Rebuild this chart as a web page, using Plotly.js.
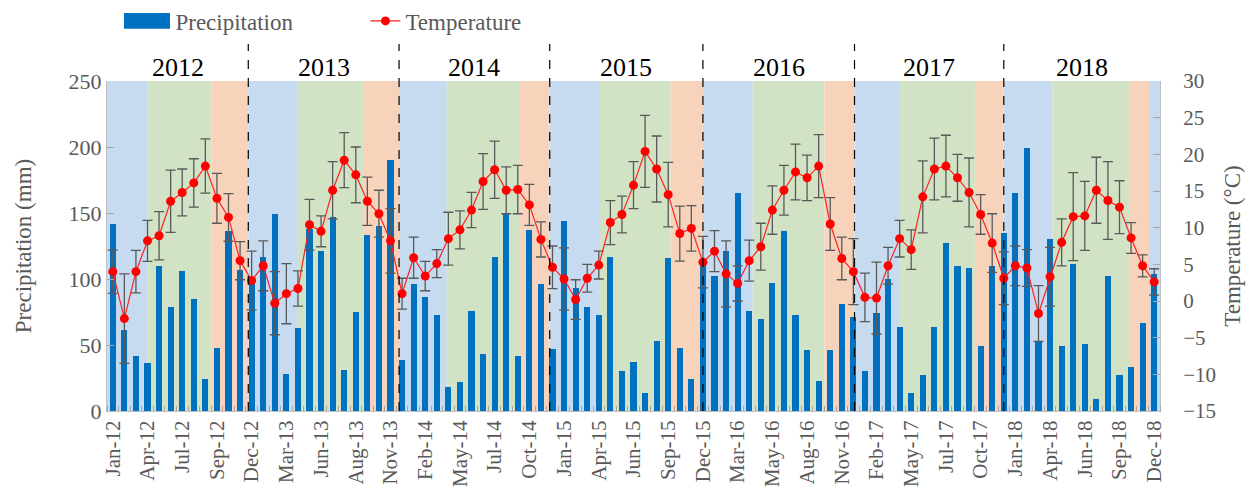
<!DOCTYPE html>
<html>
<head>
<meta charset="utf-8">
<script src="https://cdn.plot.ly/plotly-3.0.1.min.js"></script>
<style>html,body{margin:0;padding:0;background:#fff;}#chart{width:1247px;height:497px;}</style>
</head>
<body>
<div id="chart"></div>
<script>
// 91 consecutive 28-day periods, Jan 2012 - Dec 2018 (category index)
const tickLabels = ["Jan-12","Apr-12","Jul-12","Sep-12","Dec-12","Mar-13","Jun-13","Aug-13","Nov-13",
  "Feb-14","May-14","Jul-14","Oct-14","Jan-15","Apr-15","Jun-15","Sep-15","Dec-15","Mar-16","May-16",
  "Aug-16","Nov-16","Feb-17","May-17","Jul-17","Oct-17","Jan-18","Apr-18","Jun-18","Sep-18","Dec-18"];

const precipitation = [142,61,42,36,110,79,106,85,24,48,136,107,
  98,117,149,28,63,138,121,147,31,75,133,140,190,
  39,96,86,73,18,22,76,43,117,149,42,137,96,
  47,144,93,79,73,117,30,37,14,53,116,48,24,
  113,102,121,165,76,70,97,136,73,46,23,46,81,71,
  30,74,100,64,14,27,64,127,110,108,49,110,135,
  165,199,53,130,49,111,51,9,102,27,33,67,104];

const temperature = [4.0,-2.4,4.0,8.2,8.9,13.6,14.8,16.1,18.4,14.0,11.4,5.5,
  2.8,4.8,-0.3,1.0,1.7,10.4,9.5,15.1,19.2,17.2,13.6,11.9,8.2,
  1.0,5.9,3.4,5.1,8.5,9.7,12.4,16.3,17.9,15.1,15.2,13.1,8.4,
  4.6,3.0,0.2,3.1,4.9,10.7,11.8,15.8,20.4,18.0,14.5,9.2,9.9,
  5.3,6.8,3.7,2.4,5.5,7.4,12.4,15.1,17.6,16.8,18.4,10.5,5.8,4.0,
  0.5,0.4,4.8,8.5,7.0,14.2,18.0,18.4,16.8,14.8,11.8,7.9,3.1,
  4.8,4.5,-1.7,3.3,8.0,11.5,11.6,15.1,13.7,12.8,8.6,4.8,2.6];

const temperatureErr = [2.95,6.1,2.9,2.8,3.3,4.25,3.2,3.3,3.7,3.4,3.25,2.6,
  4.0,3.4,4.3,4.1,2.4,3.45,2.1,3.9,3.75,3.8,3.3,3.2,4.4,
  2.1,2.8,2.0,1.9,3.6,2.6,2.4,3.8,3.9,3.2,3.3,2.8,2.4,
  2.9,4.25,2.7,1.9,1.9,3.0,2.5,3.2,4.9,4.5,4.4,3.75,3.1,
  3.5,2.8,4.5,2.4,2.8,3.2,3.3,3.4,3.8,3.1,4.3,3.6,2.9,4.5,
  3.3,4.9,2.5,2.5,2.7,4.9,4.2,4.2,3.2,4.7,2.7,4.0,3.6,
  2.7,2.5,3.8,4.0,3.2,6.0,4.7,4.5,5.3,3.6,2.1,1.5,1.8];

const years = ["2012","2013","2014","2015","2016","2017","2018"];
// year separators (in period-index units)
const yearBreaks = [11.71,24.74,37.76,51.0,64.1,77.0];
// season bands: [start, end, season]
const seasons = [
  [-0.5,3.0,"winter"],[3.0,8.52,"growing"],[8.52,11.71,"autumn"],
  [11.71,16.0,"winter"],[16.0,21.7,"growing"],[21.7,24.74,"autumn"],
  [24.74,28.86,"winter"],[28.86,35.2,"growing"],[35.2,37.76,"autumn"],
  [37.76,42.1,"winter"],[42.1,48.2,"growing"],[48.2,51.0,"autumn"],
  [51.0,55.3,"winter"],[55.3,61.5,"growing"],[61.5,64.1,"autumn"],
  [64.1,67.95,"winter"],[67.95,74.5,"growing"],[74.5,77.0,"autumn"],
  [77.0,81.2,"winter"],[81.2,87.9,"growing"],[87.9,89.55,"autumn"],
  [89.55,90.5,"winter"]
];

const periods = precipitation.map((_, i) => i);
const seasonColor = {winter:"#C6DBEF", growing:"#D2E2C4", autumn:"#F8D3BC"};
const gray = "#595959";
const barBlue = "#0070C0";
const serif = "'Liberation Serif', 'Times New Roman', serif";

const shapes = [];
seasons.forEach(s => shapes.push({type:"rect", xref:"x", yref:"paper", x0:s[0], x1:s[1], y0:0, y1:1,
  fillcolor:seasonColor[s[2]], line:{width:0}, layer:"below"}));
yearBreaks.forEach(b => shapes.push({type:"line", xref:"x", yref:"paper", x0:b, x1:b, y0:0, y1:1.112,
  line:{color:"#000", width:1.2, dash:"dash"}, layer:"above"}));
// widened legend key for the bar series (Excel-style wide swatch)
shapes.push({type:"rect", xref:"paper", yref:"paper", x0:0.0161, x1:0.0598, y0:1.158, y1:1.206,
  fillcolor:barBlue, line:{width:0}, layer:"above"});

const bounds = [-0.5].concat(yearBreaks, [90.5]);
const annotations = years.map((y, i) => ({text:y, xref:"x", yref:"paper", x:(bounds[i]+bounds[i+1])/2,
  y:1.042, yanchor:"middle", showarrow:false, font:{family:serif, size:26, color:"#000"}}));

const traces = [
  {type:"bar", name:"Precipitation", x:periods, y:precipitation, width:0.52,
   marker:{color:barBlue}, yaxis:"y"},
  {type:"scatter", mode:"lines+markers", name:"Temperature", x:periods, y:temperature, yaxis:"y2",
   line:{color:"#FF2020", width:1.2}, marker:{color:"#FF0000", size:9},
   error_y:{type:"data", array:temperatureErr, visible:true, color:gray, thickness:1.3, width:5}}
];

const layout = {
  width:1247, height:497,
  margin:{l:107, r:87, t:81, b:86, autoexpand:false},
  paper_bgcolor:"#fff", plot_bgcolor:"#fff",
  font:{family:serif, color:gray, size:21},
  showlegend:true,
  legend:{orientation:"h", x:0.027, xanchor:"left", y:1.182, yanchor:"middle",
    entrywidth:185, entrywidthmode:"pixels",
    font:{family:serif, size:23, color:gray}, bgcolor:"rgba(0,0,0,0)"},
  bargap:0,
  xaxis:{range:[-0.5,90.5], tickmode:"array", tickvals:tickLabels.map((_, i) => i*3), ticktext:tickLabels,
    tickangle:-90, ticks:"", showgrid:false, zeroline:false, showline:true, linecolor:"#BFBFBF",
    tickfont:{family:serif, size:21, color:gray},
    minor:{ticks:"inside", tickmode:"linear", tick0:0.5, dtick:1, ticklen:5, tickcolor:"#A6A6A6", showgrid:false}},
  yaxis:{range:[0,250], dtick:50, ticks:"inside", ticklen:7, tickcolor:"#A6A6A6", showgrid:false, zeroline:false,
    showline:true, linecolor:"#BFBFBF", tickfont:{family:serif, size:22, color:gray},
    title:{text:"Precipitation (mm)", font:{family:serif, size:23, color:gray}, standoff:30}},
  yaxis2:{range:[-15,30], dtick:5, overlaying:"y", side:"right", ticks:"inside", ticklen:7, tickcolor:"#A6A6A6",
    showgrid:false, zeroline:false, showline:true, linecolor:"#BFBFBF", ticklabelstandoff:18,
    tickfont:{family:serif, size:21, color:gray},
    title:{text:"Temperature (°C)", font:{family:serif, size:23, color:gray}, standoff:8}},
  shapes:shapes,
  annotations:annotations
};

Plotly.newPlot("chart", traces, layout, {displayModeBar:false, staticPlot:true});
</script>
</body>
</html>
